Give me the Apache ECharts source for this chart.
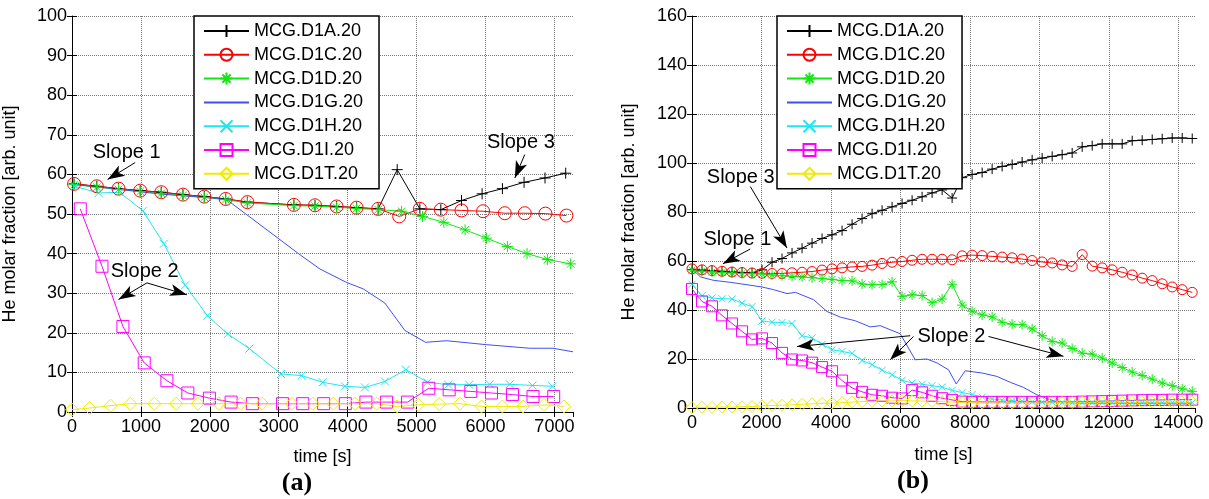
<!DOCTYPE html>
<html>
<head>
<meta charset="utf-8">
<script src="https://cdn.jsdelivr.net/npm/echarts@6/dist/echarts.min.js"></script>
<style>
  html, body { margin: 0; padding: 0; background: #fff; }
  #chart { width: 1209px; height: 499px; }
</style>
</head>
<body>
<div id="chart"></div>
<script>
// ---------- panel (a) : 0 - 7270 s ----------
const tA_D1A = [30, 360, 675, 990, 1295, 1610, 1920, 2230, 2545, 3220, 3526, 3840, 4130, 4443, 4719, 5048, 5352, 5652, 5951, 6246, 6560, 6864, 7164];
const vA_D1A = [57.6, 57.0, 56.4, 55.9, 55.5, 54.9, 54.4, 53.8, 53.0, 52.3, 52.2, 51.9, 51.6, 51.3, 61.2, 51.3, 51.1, 53.4, 55.1, 56.4, 58.0, 59.1, 60.3];
const tA_D1C = [30, 360, 675, 990, 1295, 1610, 1920, 2230, 2545, 3220, 3526, 3840, 4130, 4443, 4748, 5048, 5352, 5652, 5965, 6280, 6570, 6870, 7174];
const vA_D1C = [57.6, 57.0, 56.4, 55.9, 55.5, 54.9, 54.4, 53.8, 53.0, 52.3, 52.2, 51.9, 51.6, 51.3, 49.4, 51.3, 51.1, 50.9, 50.7, 50.2, 50.2, 50.1, 49.6];
const tA_D1D = [30, 360, 675, 990, 1295, 1610, 1920, 2230, 2545, 3220, 3526, 3840, 4130, 4443, 4783, 5087, 5396, 5704, 6014, 6318, 6603, 6899, 7236];
const vA_D1D = [57.4, 56.8, 56.2, 55.7, 55.2, 54.7, 54.2, 53.6, 52.8, 52.1, 52.0, 51.7, 51.4, 51.1, 50.7, 49.4, 47.9, 46.0, 43.9, 41.8, 40.0, 38.5, 37.4];
const tA_D1G = [30, 700, 1300, 1900, 2232, 3309, 3599, 3986, 4226, 4540, 4830, 5130, 5435, 6014, 6642, 6980, 7270];
const vA_D1G = [57.5, 56.2, 55.0, 54.2, 53.8, 39.7, 36.1, 32.7, 31.1, 27.5, 20.6, 17.6, 18.0, 17.0, 16.1, 16.1, 15.2];
const tA_D1H = [40, 386, 690, 1029, 1333, 1642, 1965, 2261, 2574, 3033, 3333, 3637, 3961, 4251, 4541, 4845, 5159, 5459, 5763, 6062, 6352, 6681, 6971];
const vA_D1H = [57.0, 55.3, 55.5, 50.8, 42.5, 32.0, 24.3, 19.7, 16.0, 9.6, 9.2, 7.5, 6.5, 6.2, 7.7, 10.7, 7.5, 6.9, 6.9, 7.0, 7.0, 6.7, 6.5];
const tA_D1I = [120, 435, 739, 1048, 1377, 1681, 1994, 2309, 2617, 3056, 3348, 3652, 3966, 4265, 4565, 4869, 5178, 5473, 5787, 6087, 6391, 6690, 6990];
const vA_D1I = [51.3, 36.8, 21.6, 12.4, 7.9, 4.8, 3.5, 2.5, 2.1, 2.1, 2.1, 2.1, 2.1, 2.5, 2.5, 2.5, 6.0, 5.6, 5.2, 4.8, 4.4, 3.9, 3.9];
const tA_D1T = [0, 255, 560, 846, 1194, 1512, 1826, 2130, 2447, 2760, 3188, 3493, 3793, 4106, 4420, 4719, 5023, 5328, 5628, 5942, 6246, 6545, 6850, 7140];
const vA_D1T = [0.6, 1.0, 1.6, 2.1, 2.1, 2.1, 2.1, 2.1, 2.1, 2.1, 2.1, 2.1, 2.1, 2.1, 2.1, 1.4, 1.8, 2.0, 2.1, 1.4, 1.4, 1.4, 1.8, 1.4];

// ---------- panel (b) : 0 - 14480 s ----------
const tB = [0, 288, 576, 864, 1152, 1440, 1728, 2016, 2304, 2592, 2880, 3168, 3456, 3744, 4032, 4320, 4608, 4896, 5184, 5472,
  5760, 6048, 6336, 6624, 6912, 7200, 7488, 7776, 8064, 8352, 8640, 8928, 9216, 9504, 9792, 10080, 10368, 10656, 10944, 11232,
  11520, 11808, 12096, 12384, 12672, 12960, 13248, 13536, 13824, 14112, 14400];
const vB_D1A = [56.5, 56.3, 56.0, 55.8, 55.5, 55.3, 55.2, 56.4, 59.5, 61.0, 63.3, 65.2, 67.3, 69.2, 70.7, 72.4, 75.0, 77.3, 79.3, 80.7,
  82.1, 83.5, 84.8, 86.2, 87.8, 89.0, 85.7, 94.0, 95.3, 96.1, 97.5, 98.6, 99.4, 100.4, 101.3, 102.0, 102.7, 103.4, 104.1, 106.6,
  107.1, 107.8, 107.8, 107.8, 109.1, 109.3, 109.6, 109.9, 110.2, 110.2, 110.0];
const vB_D1C = [56.8, 56.4, 56.1, 55.8, 55.5, 55.3, 55.1, 55.0, 54.9, 54.9, 55.2, 55.4, 55.7, 56.3, 56.8, 57.2, 57.6, 57.8, 58.3, 59.0,
  59.5, 59.8, 60.3, 60.7, 60.7, 60.7, 60.5, 62.1, 62.4, 62.2, 61.9, 61.6, 61.3, 60.8, 60.2, 59.6, 59.2, 58.4, 57.8, 62.6,
  57.9, 57.2, 56.4, 55.4, 54.3, 53.0, 52.0, 50.7, 49.4, 48.3, 47.2];
const vB_D1D = [56.3, 55.8, 55.5, 55.3, 55.1, 54.9, 54.8, 54.7, 54.3, 54.0, 53.7, 53.5, 53.2, 52.8, 52.5, 52.0, 51.9, 50.6, 50.3, 50.4,
  51.5, 45.6, 46.2, 45.9, 43.0, 44.5, 50.5, 42.0, 39.5, 38.0, 37.2, 35.0, 34.2, 34.0, 32.3, 29.5, 27.2, 26.5, 24.3, 22.4,
  22.0, 20.4, 18.4, 16.5, 14.7, 13.3, 11.8, 10.2, 9.1, 7.8, 6.8];
const tB_D1G = [0, 240, 622, 1102, 1583, 2014, 2350, 2734, 2980, 3500, 3885, 4268, 4700, 5131, 5418, 5994, 6426, 6762, 7050, 7385,
  7606, 7865, 8345, 8777, 9160, 9543, 9928, 10311, 10600, 11500, 12500, 13500, 14400];
const vB_D1G = [56.9, 53.5, 52.1, 51.3, 50.3, 49.4, 48.3, 46.7, 47.2, 44.2, 39.4, 37.1, 35.6, 33.1, 33.6, 30.3, 19.7, 20.0, 18.4, 15.6,
  9.8, 15.2, 14.3, 12.9, 10.5, 8.4, 5.4, 3.4, 2.2, 2.0, 2.0, 2.0, 2.0];
const vB_D1H = [50.5, 45.8, 44.9, 44.6, 44.5, 42.8, 41.4, 35.5, 35.0, 34.9, 34.5, 29.5, 28.6, 26.0, 23.8, 23.1, 22.3, 19.4, 17.7, 15.4,
  13.6, 11.3, 10.2, 9.7, 9.1, 8.5, 7.2, 6.3, 5.5, 4.4, 3.6, 3.3, 3.0, 2.8, 2.6, 2.4, 2.3, 2.2, 2.2, 2.2,
  2.2, 2.2, 2.2, 2.2, 2.2, 2.2, 2.2, 2.2, 2.2, 2.2, 2.2];
const vB_D1I = [48.6, 43.5, 41.5, 37.8, 34.5, 31.3, 28.0, 28.4, 26.5, 22.5, 19.8, 19.4, 18.5, 16.7, 15.0, 11.2, 8.2, 6.6, 5.4, 5.0,
  4.2, 3.9, 7.3, 6.4, 5.0, 4.0, 3.3, 2.6, 2.5, 2.5, 2.5, 2.5, 2.5, 2.5, 2.5, 2.5, 2.5, 2.5, 2.5, 2.6,
  2.7, 2.8, 2.9, 3.0, 3.1, 3.2, 3.3, 3.3, 3.4, 3.4, 3.4];
const vB_D1T = [0.2, 0.3, 0.3, 0.4, 0.4, 0.5, 0.6, 0.9, 1.0, 1.1, 1.3, 1.5, 1.7, 1.9, 2.0, 2.2, 2.4, 2.6, 2.7, 2.8,
  2.9, 3.0, 2.9, 2.8, 2.7, 2.6, 2.4, 2.2, 2.1, 2.0, 2.0, 2.0, 2.0, 2.0, 2.0, 2.0, 2.1, 2.2, 2.2, 2.3,
  2.3, 2.3, 2.3, 2.3, 2.3, 2.4, 2.4, 2.4, 2.4, 2.4, 2.4];

const seriesNames = ['MCG.D1A.20', 'MCG.D1C.20', 'MCG.D1D.20', 'MCG.D1G.20', 'MCG.D1H.20', 'MCG.D1I.20', 'MCG.D1T.20'];

// annotations: [label, t, v] and arrows [tFrom, vFrom, tTip, vTip]
const notesA = [['Slope 1', 294, 65.6], ['Slope 2', 555, 35.5], ['Slope 3', 6014, 68.1]];
const arrowsA = [[917, 63.0, 516, 58.7], [1087, 32.6, 675, 28.4], [1087, 32.6, 1667, 29.6], [6570, 65.0, 6426, 59.1]];
const notesB = [['Slope 3', 412, 94.1], ['Slope 1', 317, 68.7], ['Slope 2', 6475, 29.2]];
const arrowsB = [[1678, 90.4, 2734, 65.3], [1678, 64.9, 892, 58.9], [6282, 29.5, 3022, 25.1],
  [6377, 29.2, 5706, 19.7], [8535, 29.2, 10694, 21.1]];

const FONT = '"Liberation Sans", Arial, sans-serif';
const SYM = {
  plus: 'path://M5,0L5,10M0,5L10,5',
  star: 'path://M5,0L5,10M0,5L10,5M1.6,1.6L8.4,8.4M8.4,1.6L1.6,8.4',
  cross: 'path://M0,0L10,10M10,0L0,10',
  circle: 'circle',
  square: 'rect',
  diamond: 'diamond'
};
const looks = [
  { color: '#000000', symbol: 'plus', sizeA: 11, sizeB: 10 },
  { color: '#ff0000', symbol: 'circle', sizeA: 13, sizeB: 10 },
  { color: '#14e614', symbol: 'star', sizeA: 11, sizeB: 10 },
  { color: '#3f4ff0', symbol: 'none', sizeA: 0, sizeB: 0 },
  { color: '#1ee6f0', symbol: 'cross', sizeA: 8, sizeB: 7 },
  { color: '#ff00ff', symbol: 'square', sizeA: 12, sizeB: 11 },
  { color: '#f0eb00', symbol: 'diamond', sizeA: 13, sizeB: 12 }
];

function pairs(t, v) {
  return t.map((x, i) => [x, v[i]]);
}

function lineSeries(idx, panel, t, v) {
  const lk = looks[idx];
  const hasSym = lk.symbol !== 'none';
  return {
    name: seriesNames[idx],
    type: 'line',
    xAxisIndex: panel === 'a' ? 0 : 2,
    yAxisIndex: panel === 'a' ? 0 : 2,
    data: pairs(t, v),
    color: lk.color,
    symbol: hasSym ? SYM[lk.symbol] : 'none',
    showSymbol: hasSym,
    symbolSize: panel === 'a' ? lk.sizeA : lk.sizeB,
    lineStyle: { color: lk.color, width: 1 },
    // no marker -> keep the legend symbol invisible too
    itemStyle: { color: 'rgba(0,0,0,0)', borderColor: hasSym ? lk.color : 'rgba(0,0,0,0)', borderWidth: 1 },
    emphasis: { disabled: true },
    silent: true
  };
}

function annotate(series, notes, arrows) {
  series.markLine = {
    silent: true,
    animation: false,
    symbol: ['none', 'arrow'],
    label: { show: false },
    lineStyle: { color: '#000', width: 1, type: 'solid' },
    data: arrows.map(a => [
      { coord: [a[0], a[1]], symbol: 'none' },
      { coord: [a[2], a[3]], symbol: 'arrow', symbolSize: [9, 17] }
    ])
  };
  series.markPoint = {
    silent: true,
    animation: false,
    symbol: 'circle',
    symbolSize: 1,
    itemStyle: { color: 'rgba(0,0,0,0)' },
    label: { show: true, position: 'right', distance: 0, formatter: '{b}', color: '#000', fontSize: 20, fontFamily: FONT },
    data: notes.map(n => ({ name: n[0], coord: [n[1], n[2]] }))
  };
  return series;
}

const seriesA = [
  annotate(lineSeries(0, 'a', tA_D1A, vA_D1A), notesA, arrowsA),
  lineSeries(1, 'a', tA_D1C, vA_D1C),
  lineSeries(2, 'a', tA_D1D, vA_D1D),
  lineSeries(3, 'a', tA_D1G, vA_D1G),
  lineSeries(4, 'a', tA_D1H, vA_D1H),
  lineSeries(5, 'a', tA_D1I, vA_D1I),
  lineSeries(6, 'a', tA_D1T, vA_D1T)
];
const seriesB = [
  annotate(lineSeries(0, 'b', tB, vB_D1A), notesB, arrowsB),
  lineSeries(1, 'b', tB, vB_D1C),
  lineSeries(2, 'b', tB, vB_D1D),
  lineSeries(3, 'b', tB_D1G, vB_D1G),
  lineSeries(4, 'b', tB, vB_D1H),
  lineSeries(5, 'b', tB, vB_D1I),
  lineSeries(6, 'b', tB, vB_D1T)
];

const labelStyle = { fontSize: 18, color: '#000', fontFamily: FONT };
const dotted = { color: '#7a7a7a', width: 1, type: [1, 1] };
const tick = { inside: true, length: 5, lineStyle: { color: '#000', width: 1 } };
const plain = v => String(v);

function xMain(grid, max, interval, gap) {
  return {
    type: 'value', gridIndex: grid, min: 0, max: max, interval: interval,
    name: 'time [s]', nameLocation: 'middle', nameGap: gap, nameTextStyle: labelStyle,
    axisLine: { onZero: false, lineStyle: { color: '#000', width: 1 } },
    axisTick: tick,
    axisLabel: Object.assign({ margin: 6, showMaxLabel: false, formatter: plain }, labelStyle),
    splitLine: { show: true, showMaxLine: false, lineStyle: dotted }
  };
}
function xTop(grid, max, interval) {
  return {
    type: 'value', gridIndex: grid, position: 'top', min: 0, max: max, interval: interval,
    axisLine: { show: false }, axisTick: tick, axisLabel: { show: false }, splitLine: { show: false }
  };
}
function yMain(grid, max, interval, gap) {
  return {
    type: 'value', gridIndex: grid, min: 0, max: max, interval: interval,
    name: 'He molar fraction [arb. unit]', nameLocation: 'middle', nameGap: gap, nameTextStyle: labelStyle,
    axisLine: { show: true, onZero: false, lineStyle: { color: '#000', width: 1 } },
    axisTick: tick,
    axisLabel: Object.assign({ margin: 5, formatter: plain }, labelStyle),
    splitLine: { show: true, lineStyle: dotted }
  };
}
function yRight(grid, max, interval) {
  return {
    type: 'value', gridIndex: grid, position: 'right', min: 0, max: max, interval: interval,
    axisLine: { show: false }, axisTick: tick, axisLabel: { show: false }, splitLine: { show: false }
  };
}

function legendBox(left) {
  return {
    data: seriesNames,
    orient: 'vertical',
    left: left,
    top: 16,
    padding: [5, 16, 5, 9],
    itemGap: 3.8,
    itemWidth: 45,
    itemHeight: 15,
    backgroundColor: '#fff',
    borderColor: '#000',
    borderWidth: 1.5,
    selectedMode: false,
    textStyle: { fontSize: 18, color: '#000', fontFamily: FONT, lineHeight: 20 }
  };
}

const chart = echarts.init(document.getElementById('chart'));
chart.setOption({
  animation: false,
  backgroundColor: '#fff',
  grid: [
    { left: 72, right: 636, top: 16, bottom: 87 },
    { left: 692, right: 14, top: 16, bottom: 91 }
  ],
  xAxis: [xMain(0, 7270, 1000, 36), xTop(0, 7270, 1000), xMain(1, 14480, 2000, 38), xTop(1, 14480, 2000)],
  yAxis: [yMain(0, 100, 10, 53), yRight(0, 100, 10), yMain(1, 160, 20, 54), yRight(1, 160, 20)],
  legend: [legendBox(194), legendBox(777)],
  graphic: [
    { type: 'text', x: 297, y: 483, style: { text: '(a)', font: 'bold 26px "Liberation Serif", serif', fill: '#000', align: 'center', verticalAlign: 'middle' } },
    { type: 'text', x: 913, y: 481, style: { text: '(b)', font: 'bold 26px "Liberation Serif", serif', fill: '#000', align: 'center', verticalAlign: 'middle' } }
  ],
  series: seriesA.concat(seriesB)
});
</script>
</body>
</html>
